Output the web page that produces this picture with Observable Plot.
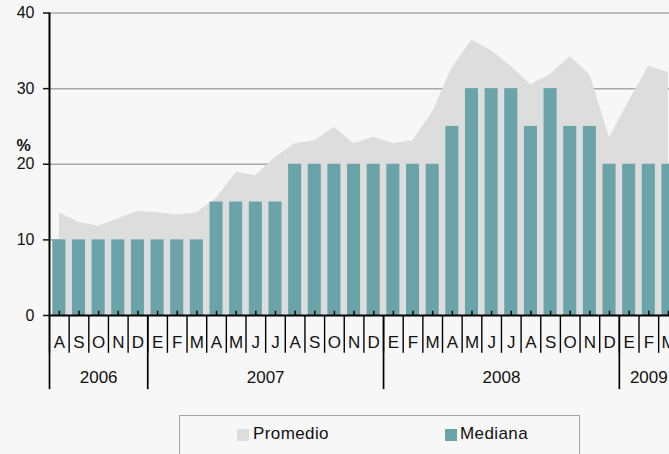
<!DOCTYPE html>
<html>
<head>
<meta charset="utf-8">
<script src="https://cdn.jsdelivr.net/npm/d3@7"></script>
<script src="https://cdn.jsdelivr.net/npm/@observablehq/plot@0.6"></script>
<style>
  html, body { margin: 0; padding: 0; background: #f7f7f7; overflow: hidden; width: 669px; height: 454px; }
  body { position: relative; font-family: "Liberation Sans", Arial, sans-serif; }
  #chart { width: 680px; }
  #chart svg { max-width: none !important; width: 680px !important; height: 400px !important; }
  #legend { position: absolute; left: 179px; top: 415px; width: 401px; height: 60px; border: 1px solid #a4a4a4; box-sizing: border-box; }
  .sw { position: absolute; width: 12px; height: 12px; top: 13px; }
  .lt { position: absolute; top: 8px; font-size: 17px; letter-spacing: 0.4px; color: #111; line-height: 20px; }
</style>
</head>
<body>
<div id="chart"></div>
<div id="legend"></div>
<script>
const months = ["A","S","O","N","D","E","F","M","A","M","J","J","A","S","O","N","D","E","F","M","A","M","J","J","A","S","O","N","D","E","F","M"];
const mediana = [10,10,10,10,10,10,10,10,15,15,15,15,20,20,20,20,20,20,20,20,25,30,30,30,25,30,25,25,20,20,20,20];
const promedio = [13.6,12.3,11.8,12.8,13.8,13.6,13.3,13.6,15.5,18.9,18.5,20.9,22.7,23.1,24.9,22.7,23.6,22.7,23.1,26.9,32.8,36.4,35.0,32.9,30.5,31.9,34.2,31.8,23.5,28.4,33.0,32.1];
const years = ["2006","2007","2008","2009"];
const yearStart = [0,5,17,29];
const yearEnd = [5,17,29,32];
const yTicks = [0,10,20,30,40];
const seriesNames = ["Promedio","Mediana"];
const seriesColors = ["#dddddd","#6aa3a8"];

const data = months.map((m, i) => ({i, m, med: mediana[i], prom: promedio[i]}));
const yearData = years.map((y, k) => ({y, s: yearStart[k], e: yearEnd[k]}));

const chart = Plot.plot({
  width: 680,
  height: 400,
  marginLeft: 49,
  marginRight: 2.2,
  marginTop: 12.5,
  marginBottom: 85,
  style: {background: "#f7f7f7", fontFamily: "Liberation Sans, Arial, sans-serif", color: "#111", overflow: "visible", maxWidth: "none"},
  x: {type: "linear", domain: [0, 32], axis: null},
  y: {domain: [0, 40], axis: null},
  marks: [
    Plot.ruleY(yTicks.filter(d => d > 0), {stroke: "#a8a8a8", strokeWidth: 1.5}),
    Plot.areaY(data, {x: d => d.i + 0.5, y: "prom", fill: seriesColors[0]}),
    Plot.rectY(data, {x1: "i", x2: d => d.i + 1, y: "med", fill: seriesColors[1], insetLeft: 3.3, insetRight: 3.3}),
    Plot.axisY({ticks: yTicks, tickSize: 6, tickPadding: 9, fontSize: 16, strokeWidth: 1.5, tickFormat: d => String(d)}),
    Plot.ruleX([0], {y1: 0, y2: 40, stroke: "black", strokeWidth: 2}),
    Plot.ruleY([0], {stroke: "black", strokeWidth: 2}),
    Plot.ruleX(data, {x: d => d.i + 0.5, y1: 0, y2: 0.55, stroke: "black", strokeWidth: 1.5}),
    Plot.ruleX(data, {x: "i", y1: 0, y2: -5.0, stroke: "black", strokeWidth: 1.4}),
    Plot.ruleX(yearData, {x: "s", y1: 0, y2: -9.8, stroke: "black", strokeWidth: 1.7}),
    Plot.text(data, {x: d => d.i + 0.5, y: 0, dy: 27, text: "m", fontSize: 17}),
    Plot.text(yearData, {x: d => (d.s + d.e) / 2, y: 0, dy: 62, text: "y", fontSize: 17}),
    Plot.text(["%"], {x: 0, y: 20, dx: -26, dy: -18, text: d => d, fontSize: 16, fontWeight: "bold"})
  ]
});
document.getElementById("chart").appendChild(chart);

const legend = document.getElementById("legend");
const swLeft = [57, 265];
const txLeft = [73, 280];
seriesNames.forEach((n, k) => {
  const s = document.createElement("div");
  s.className = "sw";
  s.style.left = swLeft[k] + "px";
  s.style.background = seriesColors[k];
  legend.appendChild(s);
  const t = document.createElement("div");
  t.className = "lt";
  t.style.left = txLeft[k] + "px";
  t.textContent = n;
  legend.appendChild(t);
});
</script>
</body>
</html>
